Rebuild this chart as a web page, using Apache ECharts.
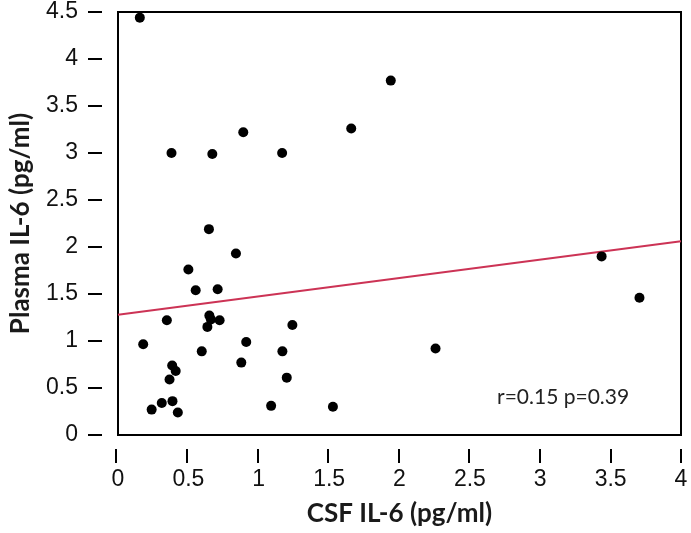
<!DOCTYPE html>
<html>
<head>
<meta charset="utf-8">
<script src="https://cdn.jsdelivr.net/npm/echarts@6/dist/echarts.min.js"></script>
<style>html,body{margin:0;padding:0;background:#fff}#c{width:691px;height:533px}</style>
</head>
<body>
<div id="c"></div>
<script>
var csfIL6 = [0.155,0.38,0.67,0.89,1.166,0.646,0.838,0.50,0.552,0.708,0.347,0.649,0.66,0.635,0.722,1.239,0.179,0.911,0.595,1.168,0.876,0.385,0.41,0.366,1.199,0.311,0.387,0.239,0.425,1.088,1.938,1.657,3.436,3.705,2.256,1.527];
var plasmaIL6 = [4.44,3.00,2.99,3.22,3.00,2.19,1.93,1.76,1.54,1.55,1.22,1.27,1.23,1.15,1.22,1.17,0.965,0.99,0.89,0.89,0.77,0.74,0.68,0.59,0.61,0.34,0.36,0.27,0.24,0.31,3.77,3.26,1.90,1.46,0.92,0.30];
var fitX = [0, 4];
var fitY = [1.28, 2.06];
var statsText = 'r=0.15 p=0.39';

var points = csfIL6.map(function(x, i){ return [x, plasmaIL6[i]]; });
var fit = fitX.map(function(x, i){ return [x, fitY[i]]; });

var X_MIN = 0, X_MAX = 4, X_STEP = 0.5;
var Y_MIN = 0, Y_MAX = 4.5, Y_STEP = 0.5;

var tickStyle = {color: '#000', width: 2};
var hidden = {show: false};

var chart = echarts.init(document.getElementById('c'));
chart.setOption({
  animation: false,
  grid: [
    {left: 116, right: 10, top: 12, bottom: 98, show: true, borderColor: '#000', borderWidth: 2},
    {left: 116, right: 10, top: 435, height: 14},
    {left: 102, width: 14, top: 12, bottom: 98}
  ],
  xAxis: [{
    gridIndex: 0, type: 'value', min: X_MIN, max: X_MAX, interval: X_STEP,
    name: 'CSF IL-6 (pg/ml)', nameLocation: 'middle', nameGap: 66,
    nameTextStyle: {fontFamily: 'Lato', fontWeight: 'bold', fontSize: 26, color: '#1a1a1a'},
    axisLine: {show: true, onZero: false, lineStyle: {color: '#000', width: 2}},
    axisTick: hidden,
    axisLabel: {formatter: '{t|{value}}', rich: {t: {fontFamily: 'Liberation Sans', fontSize: 23, color: '#111', padding: [4, 0, 0, 0]}}, margin: 29},
    splitLine: hidden
  }, {
    gridIndex: 1, type: 'value', min: X_MIN, max: X_MAX, interval: X_STEP, position: 'top',
    axisLine: hidden,
    axisTick: {show: true, inside: true, length: 14, lineStyle: tickStyle},
    axisLabel: hidden, splitLine: hidden
  }, {
    gridIndex: 2, type: 'value', show: false
  }],
  yAxis: [{
    gridIndex: 0, type: 'value', min: Y_MIN, max: Y_MAX, interval: Y_STEP,
    name: 'Plasma IL-6 (pg/ml)', nameLocation: 'middle', nameGap: 84,
    nameTextStyle: {fontFamily: 'Lato', fontWeight: 'bold', fontSize: 26, color: '#1a1a1a'},
    axisLine: {show: true, onZero: false, lineStyle: {color: '#000', width: 2}},
    axisTick: hidden,
    axisLabel: {formatter: '{t|{value}}', rich: {t: {fontFamily: 'Liberation Sans', fontSize: 23, color: '#111', padding: [0, 13, 0, 0]}}, margin: 27},
    splitLine: hidden
  }, {
    gridIndex: 1, type: 'value', show: false
  }, {
    gridIndex: 2, type: 'value', min: Y_MIN, max: Y_MAX, interval: Y_STEP, position: 'right',
    axisLine: hidden,
    axisTick: {show: true, inside: true, length: 14, lineStyle: tickStyle},
    axisLabel: hidden, splitLine: hidden
  }],
  graphic: [{
    type: 'text', left: 497, top: 387,
    style: {text: statsText, fontFamily: 'Lato', fontSize: 21, fill: '#222'}
  }],
  series: [
    {type: 'line', xAxisIndex: 0, yAxisIndex: 0, data: fit, symbol: 'none', lineStyle: {color: '#cc3355', width: 2}, z: 2},
    {type: 'scatter', xAxisIndex: 0, yAxisIndex: 0, data: points, symbolSize: 10, itemStyle: {color: '#000', opacity: 1}, z: 3}
  ]
});
</script>
</body>
</html>
